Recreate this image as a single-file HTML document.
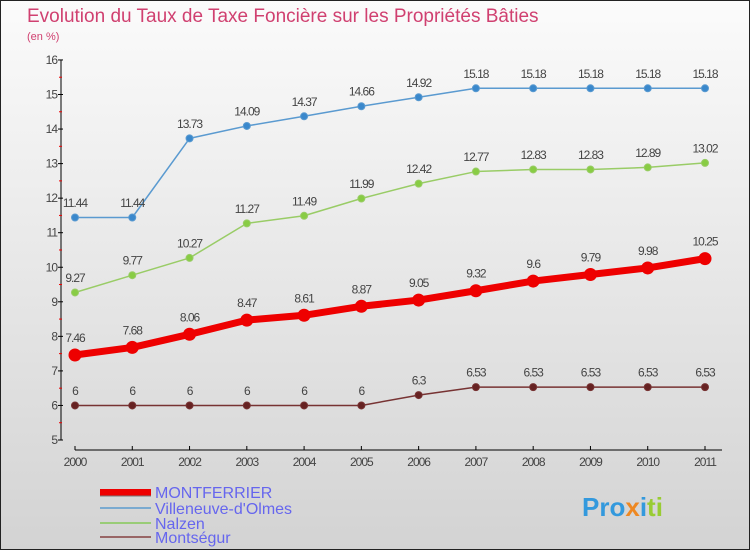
<!DOCTYPE html>
<html><head><meta charset="utf-8"><style>
body{margin:0}
#c{width:750px;height:550px;position:relative;overflow:hidden;font-family:"Liberation Sans",sans-serif}
</style></head><body>
<div id="c">
<svg id="s" width="750" height="550" xmlns="http://www.w3.org/2000/svg">
<defs><linearGradient id="bg" x1="0" y1="0" x2="0" y2="1"><stop offset="0" stop-color="#fbfbfb"/><stop offset="1" stop-color="#d3d3d3"/></linearGradient></defs>
<rect x="0.5" y="0.5" width="749" height="549" fill="url(#bg)" stroke="#222"/>
<text x="27" y="22" font-size="19" fill="#d04070">Evolution du Taux de Taxe Foncière sur les Propriétés Bâties</text>
<text x="27" y="40" font-size="11" fill="#d04070">(en %)</text>
<g id="axes"></g><g id="series"></g>
<g font-size="16" fill="#6666ee">
<rect x="100" y="489" width="51" height="7" fill="#ee0000"/>
<line x1="100" y1="496" x2="151" y2="496" stroke="#777" stroke-width="1"/>
<text x="155" y="498">MONTFERRIER</text>
<line x1="100" y1="508" x2="151" y2="508" stroke="#7aaad0" stroke-width="2"/>
<text x="155" y="514">Villeneuve-d'Olmes</text>
<line x1="100" y1="523" x2="151" y2="523" stroke="#99cc77" stroke-width="2"/>
<text x="155" y="529">Nalzen</text>
<line x1="100" y1="537" x2="151" y2="537" stroke="#996666" stroke-width="2"/>
<text x="155" y="543">Montségur</text>
</g>
<text x="582" y="516" font-size="26" font-weight="bold"><tspan fill="#3399dd">Pro</tspan><tspan fill="#ee8822">x</tspan><tspan fill="#3399dd">i</tspan><tspan fill="#99cc33">ti</tspan></text>
</svg>
</div>
<script>
const years=[2000,2001,2002,2003,2004,2005,2006,2007,2008,2009,2010,2011];
const yTicks=[5,6,7,8,9,10,11,12,13,14,15,16];
const montferrier=[7.46,7.68,8.06,8.47,8.61,8.87,9.05,9.32,9.6,9.79,9.98,10.25];
const villeneuve=[11.44,11.44,13.73,14.09,14.37,14.66,14.92,15.18,15.18,15.18,15.18,15.18];
const nalzen=[9.27,9.77,10.27,11.27,11.49,11.99,12.42,12.77,12.83,12.83,12.89,13.02];
const montsegur=[6,6,6,6,6,6,6.3,6.53,6.53,6.53,6.53,6.53];
const NS="http://www.w3.org/2000/svg";
const xs=i=>75+i*(630/11);
const ys=v=>440-(v-5)*34.55;
function mk(t,a,p){const e=document.createElementNS(NS,t);for(const k in a)e.setAttribute(k,a[k]);p.appendChild(e);return e;}
const ax=document.getElementById('axes');
let l=mk('line',{x1:61,y1:60,x2:61,y2:440,stroke:'#000'},ax);


yTicks.forEach(v=>{
 mk('line',{x1:58,y1:ys(v),x2:63,y2:ys(v),stroke:'#000'},ax);
 if(v<16)mk('line',{x1:59,y1:ys(v+0.5),x2:62,y2:ys(v+0.5),stroke:'#e00'},ax);
 const t=mk('text',{x:57,y:ys(v)+4,'font-size':12,fill:'#444','text-anchor':'end','letter-spacing':'-1'},ax);
 
 
 t.textContent=v;
});
l=mk('line',{x1:75,y1:450,x2:722,y2:450,stroke:'#000'},ax);


years.forEach((y,i)=>{
 mk('line',{x1:xs(i),y1:446,x2:xs(i),y2:450,stroke:'#000'},ax);
 const t=mk('text',{x:xs(i),y:466,'font-size':12,fill:'#444','text-anchor':'middle','letter-spacing':'-1'},ax);
 
 
 t.textContent=y;
});
const sg=document.getElementById('series');
function series(name,vals,col,fill,w,r){
 const g=mk('g',{},sg);
 
 
 const p=mk('polyline',{points:vals.map((v,i)=>xs(i)+','+ys(v)).join(' '),fill:'none',stroke:col,'stroke-width':w,'stroke-linejoin':'round'},g);
 
 
 vals.forEach((v,i)=>{
  const c=mk('circle',{cx:xs(i),cy:ys(v),r:r,fill:fill,stroke:col,'stroke-width':1},g);
  
  
  const t=mk('text',{x:xs(i),y:ys(v)-r-7,'font-size':12,fill:'#444','text-anchor':'middle','letter-spacing':'-1'},g);
  
  
  t.textContent=v;
 });
}
series('villeneuve',villeneuve,'#5a9ad0','#3a88cc',1.5,3.5);
series('nalzen',nalzen,'#99cc66','#88cc44',1.5,3.5);
series('montsegur',montsegur,'#773333','#662222',1.5,3.5);
series('montferrier',montferrier,'#ee0000','#ee0000',7,6);
</script>
</body></html>
